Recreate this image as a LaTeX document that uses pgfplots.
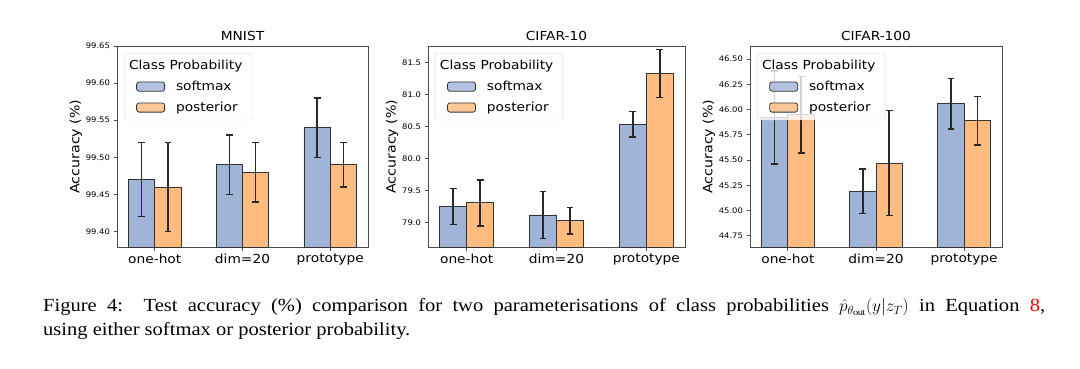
\documentclass[border=0pt]{standalone}
\usepackage{pgfplots}
\pgfplotsset{compat=1.18}
\usepackage{fontspec}
\setmainfont[FakeStretch=1.11]{Liberation Serif}
\newfontfamily\djvfont[FakeStretch=1.11]{DejaVu Sans}
\definecolor{bblue}{RGB}{160,180,216}
\definecolor{borange}{RGB}{255,187,128}
\definecolor{edge}{RGB}{50,50,50}
\definecolor{errc}{RGB}{40,40,40}
\newcommand\lf{\djvfont\fontsize{12.4}{14}\selectfont}
\newcommand\legtitle{\makebox[62pt][l]{\hspace*{-47pt}Class Probability}}
\pgfplotsset{
  base/.style={
    scale only axis, height=201pt,
    xmin=-0.43, xmax=2.43,
    xtick={0,1,2}, xticklabels={one-hot,dim=20,prototype},
    tick pos=left, tick align=outside, major tick length=3.5pt,
    every tick/.style={black!70, line width=0.8pt},
    axis line style={black!70, line width=0.8pt},
    xticklabel style={font=\lf},
    yticklabel style={font=\djvfont\fontsize{7.6}{9}\selectfont},
    /pgf/number format/assume math mode=true,
    scaled y ticks=false,
    ylabel={Accuracy (\%)}, ylabel style={font=\djvfont\fontsize{12.8}{14}\selectfont}, ylabel shift=-3pt,
    title style={font=\lf, anchor=base, at={(0.5,1)}, yshift=-0.7pt, inner sep=0pt},
    legend style={anchor=north west, font=\lf, draw=black!15, rounded corners=2.5pt,
      fill=white, fill opacity=0.8, text opacity=1, inner xsep=12pt, inner ysep=5pt,
      row sep=6pt, column sep=9pt},
    legend cell align=left,
    clip=true,
  },
  sbar/.style={ybar, bar width=0.3, bar shift=0pt, fill=bblue, draw=edge, line width=0.8pt,
    legend image code/.code={\draw[fill=bblue, draw=edge, line width=0.8pt] (0pt,-4.6pt) rectangle (28pt,4.6pt);},
    error bars/.cd, y dir=both, y explicit,
    error bar style={errc, line width=1.5pt},
    error mark options={rotate=90, mark size=3.4pt, errc, line width=1.5pt}},
  pbar/.style={ybar, bar width=0.3, bar shift=0pt, fill=borange, draw=edge, line width=0.8pt,
    legend image code/.code={\draw[fill=borange, draw=edge, line width=0.8pt] (0pt,-4.6pt) rectangle (28pt,4.6pt);},
    error bars/.cd, y dir=both, y explicit,
    error bar style={errc, line width=1.5pt},
    error mark options={rotate=90, mark size=3.4pt, errc, line width=1.5pt}},
}
\begin{document}
\begin{tikzpicture}
\path[use as bounding box] (0,0) rectangle (1080pt,-369pt);
% MNIST
\begin{axis}[base, at={(117pt,-247pt)}, anchor=south west, width=251pt,
  title={MNIST}, ymin=99.379, ymax=99.65,
  ytick={99.40,99.45,99.50,99.55,99.60,99.65},
  yticklabel style={/pgf/number format/.cd, fixed, fixed zerofill, precision=2},
  legend style={at={(0.028,0.965)}}]
\addlegendimage{empty legend}
\addlegendentry{\legtitle}
\addplot[sbar] coordinates {(-0.15,99.47) +- (0,0.05) (0.85,99.49) +- (0,0.04) (1.85,99.54) +- (0,0.04)};
\addlegendentry{softmax}
\addplot[pbar] coordinates {(0.15,99.46) +- (0,0.06) (1.15,99.48) +- (0,0.04) (2.15,99.49) +- (0,0.03)};
\addlegendentry{posterior}
\end{axis}
% CIFAR-10
\begin{axis}[base, at={(428pt,-247pt)}, anchor=south west, width=257pt,
  title={CIFAR-10}, ymin=78.62, ymax=81.76,
  ytick={79.0,79.5,80.0,80.5,81.0,81.5},
  yticklabel style={/pgf/number format/.cd, fixed, fixed zerofill, precision=1},
  legend style={at={(0.027,0.965)}}]
\addlegendimage{empty legend}
\addlegendentry{\legtitle}
\addplot[sbar] coordinates {(-0.15,79.25) +- (0,0.28) (0.85,79.12) +- (0,0.37) (1.85,80.54) +- (0,0.20)};
\addlegendentry{softmax}
\addplot[pbar] coordinates {(0.15,79.31) +- (0,0.36) (1.15,79.03) +- (0,0.21) (2.15,81.33) +- (0,0.375)};
\addlegendentry{posterior}
\end{axis}
% CIFAR-100
\begin{axis}[base, at={(750pt,-247pt)}, anchor=south west, width=252pt,
  title={CIFAR-100}, ymin=44.64, ymax=46.63,
  ytick={44.75,45.00,45.25,45.50,45.75,46.00,46.25,46.50},
  yticklabel style={/pgf/number format/.cd, fixed, fixed zerofill, precision=2},
  legend style={at={(0.028,0.965)}}]
\addlegendimage{empty legend}
\addlegendentry{\legtitle}
\addplot[sbar] coordinates {(-0.15,45.92) +- (0,0.46) (0.85,45.19) +- (0,0.22) (1.85,46.06) +- (0,0.25)};
\addlegendentry{softmax}
\addplot[pbar] coordinates {(0.15,45.95) +- (0,0.38) (1.15,45.47) +- (0,0.52) (2.15,45.89) +- (0,0.24)};
\addlegendentry{posterior}
\end{axis}
% caption
\node[anchor=base west, inner sep=0pt] at (43pt,-311.5pt) {\fontsize{18.5}{22}\selectfont\makebox[1002pt][s]{Figure 4:\ \ Test accuracy (\%) comparison for two parameterisations of class probabilities $\hat{p}_{\theta_{\mathrm{out}}}(y|z_T)$ in Equation \textcolor{red}{8},}};
\node[anchor=base west, inner sep=0pt] at (43pt,-335.5pt) {\fontsize{18.5}{22}\selectfont using either softmax or posterior probability.};
\end{tikzpicture}
\end{document}
